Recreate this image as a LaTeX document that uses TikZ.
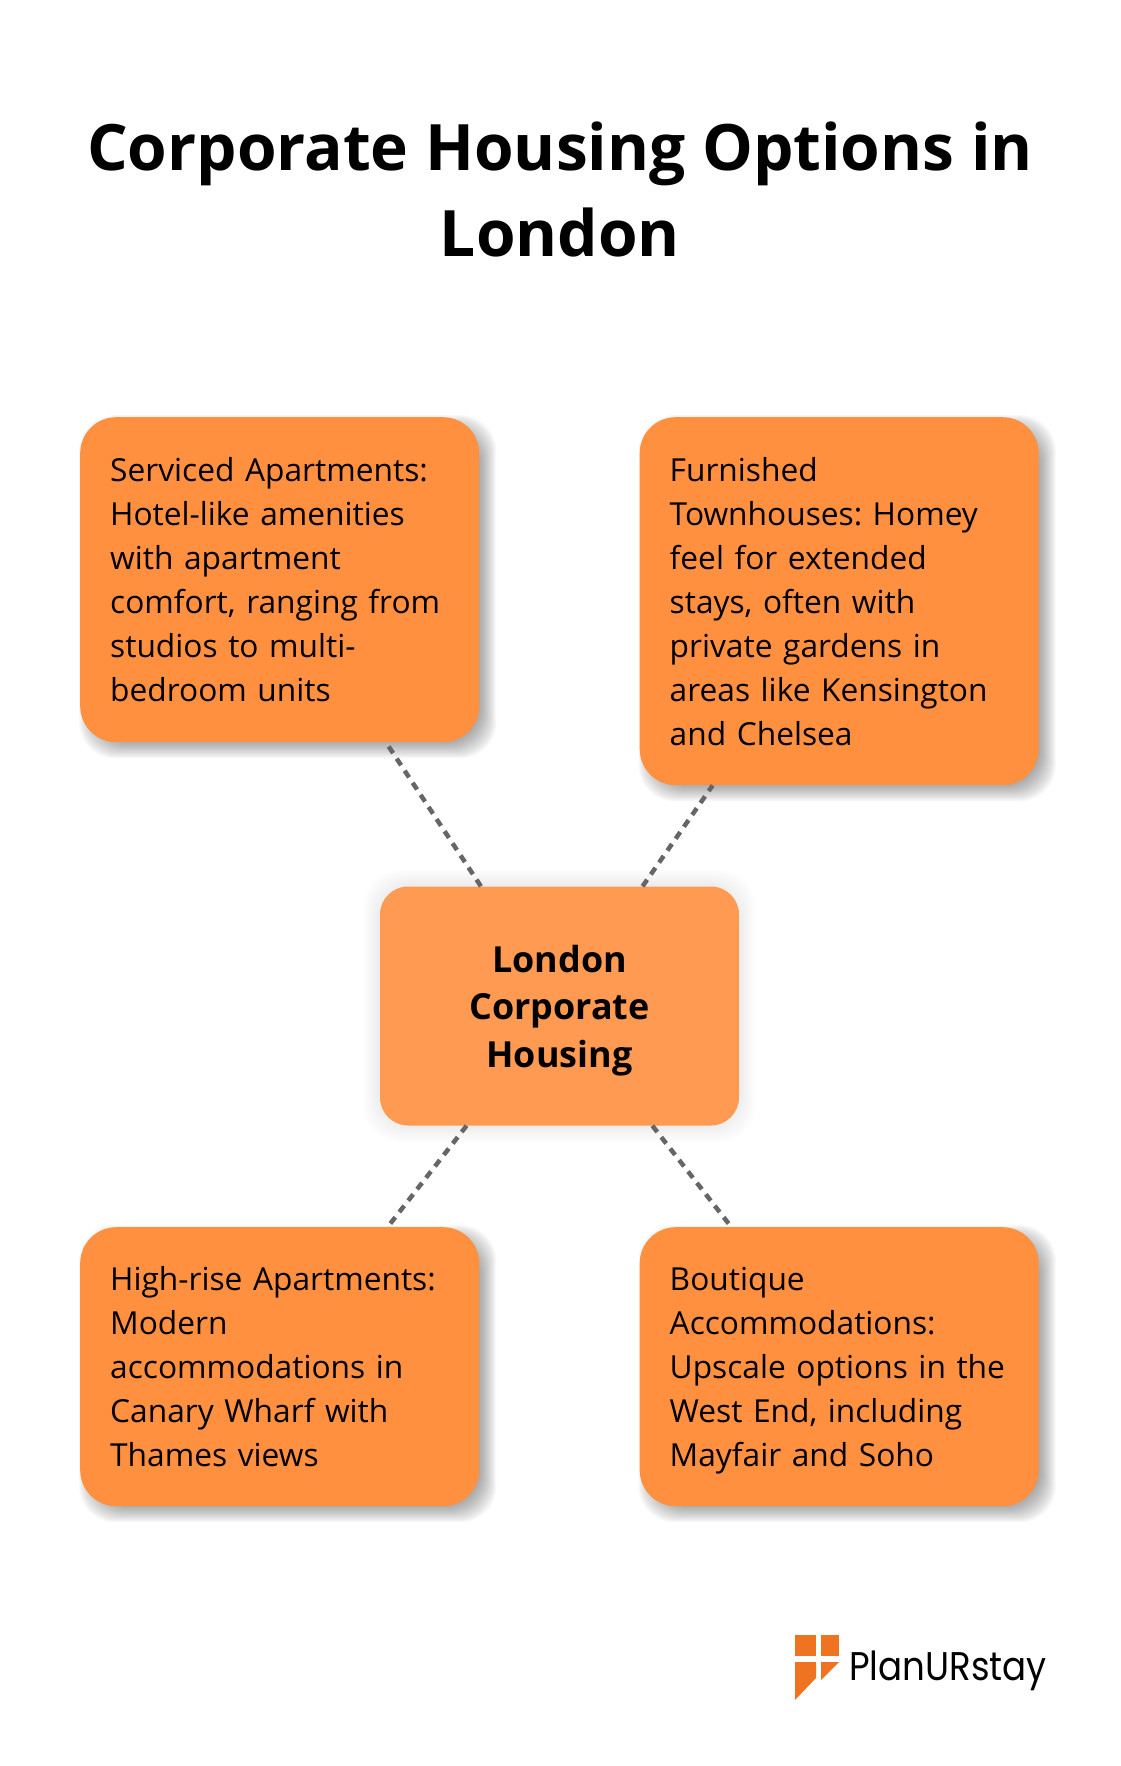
\documentclass[tikz,border=0pt]{standalone}
\usepackage{fontspec}
\usepackage{xcolor}
\setmainfont{Open Sans}
\newfontfamily\logofont{Poppins}
\definecolor{sidefill}{HTML}{FF9040}
\definecolor{centerfill}{HTML}{FF9A52}
\definecolor{dashgray}{HTML}{666666}
\definecolor{logoorange}{HTML}{EE7421}
\usetikzlibrary{backgrounds}
\usetikzlibrary{calc}
\tikzset{
	sidebox/.style={anchor=north west, rectangle, rounded corners=36pt, fill=sidefill, align=left, text width=339pt, inner xsep=30pt, inner ysep=0pt, minimum width=399pt, font=\fontsize{31.7}{44}\selectfont\frenchspacing, execute at begin node=\rule{0pt}{32pt}, execute at end node=\rule[-8pt]{0pt}{8pt}},
	centerbox/.style={anchor=center, rectangle, rounded corners=28pt, fill=centerfill, align=center, minimum width=359pt, minimum height=239pt, text depth=0pt, font=\fontsize{35.9}{47.6}\selectfont\bfseries},
	dashline/.style={draw=dashgray, line width=4.5pt, dash pattern=on 8pt off 6.5pt}
}
% soft shadow behind a box: name, x offset, y offset, spread, opacity of one step
\newcommand{\softshadow}[5]{
	\begin{scope}[on background layer]
		\foreach \grow in {9,8,...,-8}{
			\fill[black, opacity=#5, rounded corners=36pt] ($(#1.north west)+(#2-\grow*#4,#3-\grow*#4)$) rectangle ($(#1.south east)+(#2+\grow*#4,#3+\grow*#4)$);
		}
	\end{scope}}

\begin{document}
\begin{tikzpicture}[x=1pt, y=-1pt]
	\useasboundingbox (0,0) rectangle (1120,1766);

	% Title
	\node[align=center, font=\fontsize{64}{86}\selectfont\bfseries] (title) at (560,189) {Corporate Housing Options in\\London};

	% top left
	\node[sidebox, minimum height=325pt] (serviced) at (80,417) {Serviced Apartments:\\Hotel-like amenities\\with apartment\\comfort, ranging from\\studios to multi-\\bedroom units};

	% top right
	\node[sidebox, minimum height=368pt] (townhouses) at (639.5,417) {Furnished\\Townhouses: Homey\\feel for extended\\stays, often with\\private gardens in\\areas like Kensington\\and Chelsea};

	% bottom left
	\node[sidebox, minimum height=279pt] (highrise) at (80,1227) {High-rise Apartments:\\Modern\\accommodations in\\Canary Wharf with\\Thames views};

	% bottom right
	\node[sidebox, minimum height=279pt] (boutique) at (639.5,1227) {Boutique\\Accommodations:\\Upscale options in the\\West End, including\\Mayfair and Soho};

	% Center
	\node[centerbox] (hub) at (559.5,1006) {London\\Corporate\\Housing};

	% Shadows
	\softshadow{serviced}{8}{7}{1}{0.023}
	\softshadow{townhouses}{8}{7}{1}{0.023}
	\softshadow{highrise}{8}{7}{1}{0.023}
	\softshadow{boutique}{8}{7}{1}{0.023}
	\softshadow{hub}{0}{0}{1.8}{0.006}

	% Connectors
	\draw[dashline] (hub) -- (serviced);
	\draw[dashline] (hub) -- (townhouses);
	\draw[dashline] (hub) -- (highrise);
	\draw[dashline] (hub) -- (boutique);

	% Logo
	\fill[logoorange] (795,1635) rectangle (816,1656);
	\fill[logoorange] (821,1635) rectangle (839,1656);
	\fill[logoorange] (795,1662) -- (816,1662) -- (816,1678) -- (795,1700) -- cycle;
	\fill[logoorange] (821,1662) -- (839,1662) -- (821,1680) -- cycle;
	\node[anchor=base west, inner sep=0pt, xscale=0.89, font=\fontsize{40}{44}\logofont] (brand) at (849,1680) {PlanURstay};
\end{tikzpicture}
\end{document}
